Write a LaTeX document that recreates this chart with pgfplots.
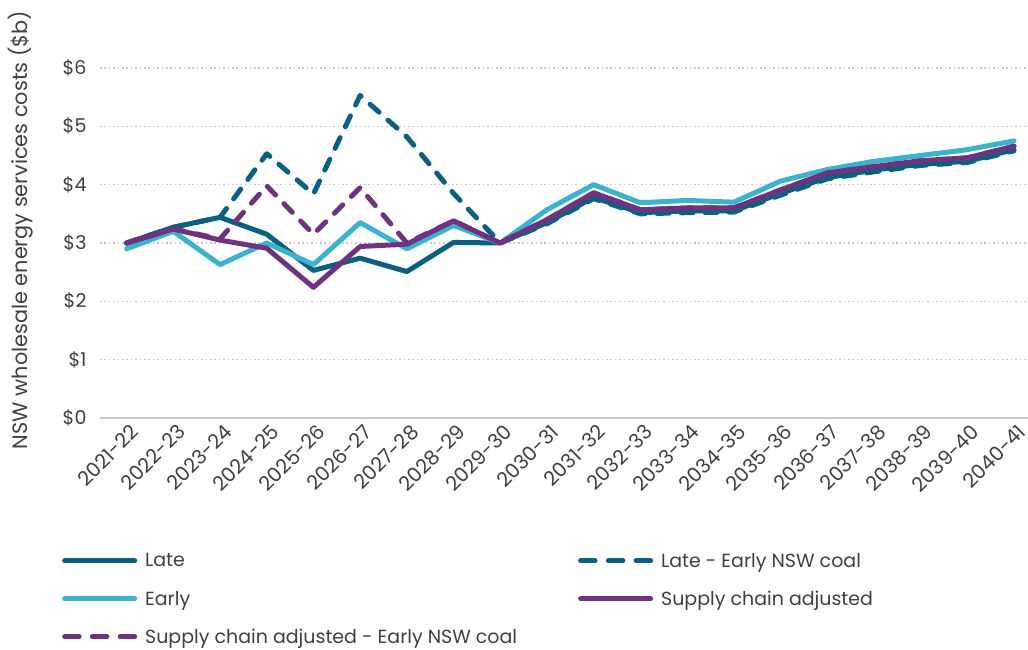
\documentclass[border=0pt]{standalone}
\usepackage{fontspec}
\setmainfont{Poppins}
\usepackage{pgfplots}
\usepackage{pgfplotstable}
\pgfplotsset{compat=1.18}
\definecolor{late}{HTML}{0B5F80}
\definecolor{early}{HTML}{3BB3CE}
\definecolor{scp}{HTML}{6E337F}
\definecolor{txt}{HTML}{404040}
\definecolor{gridc}{HTML}{C8C8C8}

\pgfplotsset{
  solidleg/.style={legend image code/.code={\draw[##1] (0pt,0pt) -- (70pt,0pt);}},
  dashleg/.style={legend image code/.code={\draw[##1, dash pattern=on 14.5pt off 13.25pt] (0pt,0pt) -- (70pt,0pt);}},
}

\pgfplotstableread{
x late lateE early sc scE
0  3.00 3.00 2.90 3.00 3.00
1  3.27 3.27 3.20 3.24 3.24
2  3.44 3.44 2.63 3.05 3.07
3  3.15 4.53 3.00 2.91 3.98
4  2.53 3.84 2.63 2.24 3.15
5  2.74 5.53 3.35 2.94 3.95
6  2.51 4.82 2.90 2.98 3.00
7  3.01 3.85 3.30 3.38 3.38
8  3.00 3.00 3.00 3.00 3.00
9  3.35 3.33 3.57 3.40 3.40
10 3.78 3.76 4.00 3.86 3.86
11 3.52 3.50 3.69 3.57 3.57
12 3.55 3.52 3.73 3.60 3.60
13 3.55 3.53 3.70 3.60 3.60
14 3.85 3.82 4.06 3.91 3.91
15 4.12 4.10 4.26 4.20 4.20
16 4.25 4.22 4.40 4.31 4.31
17 4.35 4.33 4.50 4.41 4.41
18 4.40 4.38 4.60 4.46 4.46
19 4.60 4.58 4.75 4.66 4.66
}\data

\begin{document}
\begin{tikzpicture}
\begin{axis}[
  width=928pt, height=350pt, scale only axis,
  xmin=-0.57, xmax=19.3, ymin=0, ymax=6,
  axis x line=bottom, axis y line=left,
  x axis line style={-, draw=gridc, line width=2pt},
  y axis line style={draw=none},
  major tick length=0pt,
  xtick={0,...,19},
  xticklabels={2021-22,2022-23,2023-24,2024-25,2025-26,2026-27,2027-28,2028-29,2029-30,2030-31,2031-32,2032-33,2033-34,2034-35,2035-36,2036-37,2037-38,2038-39,2039-40,2040-41},
  x tick label style={rotate=45, anchor=south east, font=\fontsize{20}{20}\selectfont, text=txt, yshift=-24pt, xshift=2pt},
  ytick={0,...,6},
  yticklabels={\$0,\$1,\$2,\$3,\$4,\$5,\$6},
  y tick label style={font=\fontsize{19}{19}\selectfont, text=txt},
  yticklabel style={xshift=-10pt},
  ymajorgrids,
  major grid style={draw=gridc, line width=1.6pt, dash pattern=on 1.6pt off 2.8pt},
  ylabel={NSW wholesale energy services costs (\$b)},
  every axis y label/.style={at={(axis description cs:-0.086,0.537)}, rotate=90, anchor=center},
  ylabel style={font=\fontsize{20.8}{20.8}\selectfont, text=txt},
  legend columns=2,
  legend cell align=left,
  solidleg,
  legend style={at={(axis description cs:-0.041,-0.38)}, anchor=north west, draw=none, fill=none,
    font=\fontsize{19}{19}\selectfont, text=txt,
    /tikz/every odd column/.append style={column sep=6pt},
    /tikz/every even column/.append style={column sep=59pt},
    row sep=18pt, inner sep=0pt},
  every axis plot/.append style={line width=5pt, line join=round, line cap=round},
]
\addplot[late, no markers] table[x=x,y=late] {\data};
\addlegendentry{Late}
\addplot[late, no markers, dash pattern=on 12pt off 12pt, dashleg] table[x=x,y=lateE] {\data};
\addlegendentry{Late - Early NSW coal}
\addplot[early, no markers] table[x=x,y=early] {\data};
\addlegendentry{Early}
\addplot[scp, no markers] table[x=x,y=sc] {\data};
\addlegendentry{Supply chain adjusted}
\addplot[scp, no markers, dash pattern=on 12pt off 12pt, dashleg] table[x=x,y=scE] {\data};
\addlegendentry{Supply chain adjusted - Early NSW coal}
\end{axis}
\pgfresetboundingbox
\path (current axis.south west) ++(-100pt,-232pt);
\path (current axis.north east) ++(0pt,68pt);
\end{tikzpicture}
\end{document}
